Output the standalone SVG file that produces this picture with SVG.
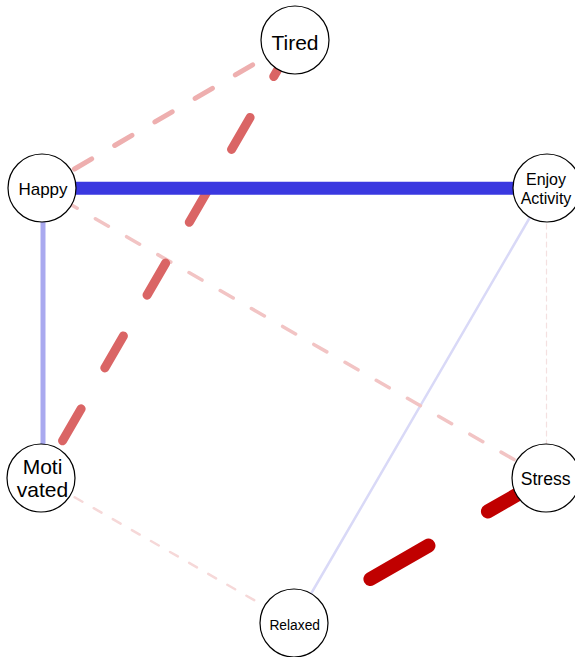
<svg xmlns="http://www.w3.org/2000/svg" width="575" height="657" viewBox="0 0 575 657">
  <style>
    .edge { fill: none; stroke-linecap: round; }
    .node circle { fill: #ffffff; stroke: #000000; stroke-width: 1.2; }
    .node text { font-family: "Liberation Sans", Arial, sans-serif; fill: #000000; text-anchor: middle; }
  </style>
  <rect width="575" height="657" fill="#ffffff"/>

  <!-- connectors, weakest first -->
  <g id="edges">
    <line id="e-enjoy-stress" class="edge" x1="546.5" y1="188" x2="546.5" y2="478" stroke="#f4e0e0" stroke-width="1.2" stroke-dasharray="5 4"/>
    <line id="e-motivated-relaxed" class="edge" x1="41" y1="478" x2="294" y2="623" stroke="#f6d8d8" stroke-width="2.5" stroke-dasharray="9 13" stroke-dashoffset="5.25"/>
    <line id="e-enjoy-relaxed" class="edge" x1="547" y1="188" x2="294" y2="623" stroke="#d9d9f7" stroke-width="2.5"/>
    <line id="e-happy-stress" class="edge" x1="42" y1="188" x2="546" y2="478" stroke="#f2c4c4" stroke-width="3.5" stroke-dasharray="15 21" stroke-dashoffset="10.4"/>
    <line id="e-happy-motivated" class="edge" x1="43" y1="188" x2="43" y2="478" stroke="#a9a9ef" stroke-width="5" stroke-linecap="butt"/>
    <line id="e-happy-tired" class="edge" x1="42" y1="188" x2="295" y2="40" stroke="#eeafaf" stroke-width="5" stroke-dasharray="20 26.6" stroke-dashoffset="9"/>
    <line id="e-motivated-tired" class="edge" x1="41" y1="478" x2="295" y2="40" stroke="#da6565" stroke-width="9" stroke-dasharray="37 47.2" stroke-dashoffset="41.2"/>
    <line id="e-happy-enjoy" class="edge" x1="42" y1="188.3" x2="547" y2="188.3" stroke="#3a38e0" stroke-width="13" stroke-linecap="butt"/>
    <line id="e-stress-relaxed" class="edge" x1="546" y1="478" x2="294" y2="623" stroke="#c00000" stroke-width="14" stroke-dasharray="67 68.6"/>
  </g>

  <!-- nodes -->
  <g id="tired" class="node">
    <circle cx="295" cy="40" r="34"/>
    <text x="295" y="50" font-size="21">Tired</text>
  </g>
  <g id="happy" class="node">
    <circle cx="42" cy="188" r="34"/>
    <text x="43" y="195" font-size="17">Happy</text>
  </g>
  <g id="enjoy-activity" class="node">
    <circle cx="547" cy="188" r="34"/>
    <text x="546" y="184.5" font-size="16">Enjoy</text>
    <text x="546" y="203.5" font-size="16">Activity</text>
  </g>
  <g id="motivated" class="node">
    <circle cx="41" cy="478" r="34"/>
    <text x="42.5" y="473.5" font-size="21">Moti</text>
    <text x="42.5" y="497" font-size="21">vated</text>
  </g>
  <g id="stress" class="node">
    <circle cx="546" cy="478" r="34"/>
    <text x="545.7" y="485" font-size="17.6">Stress</text>
  </g>
  <g id="relaxed" class="node">
    <circle cx="294" cy="623" r="34"/>
    <text x="294.7" y="630" font-size="13.8">Relaxed</text>
  </g>
</svg>
